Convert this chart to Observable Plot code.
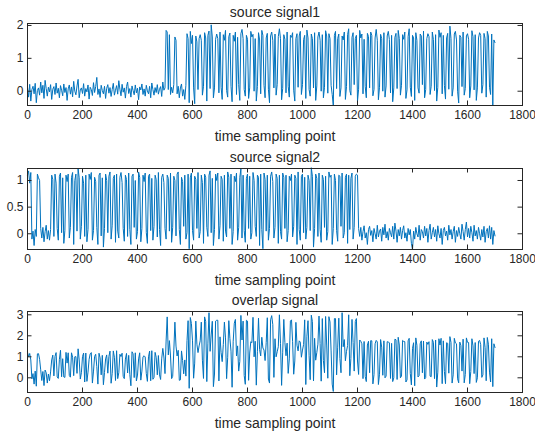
<!DOCTYPE html>
<html><head><meta charset="utf-8">
<script src="https://cdn.jsdelivr.net/npm/d3@7"></script>
<script src="https://cdn.jsdelivr.net/npm/@observablehq/plot@0.6"></script>
<style>
body{margin:0;background:#fff;}
#fig{position:relative;width:535px;height:433px;background:#fff;overflow:hidden;}
#fig svg{position:absolute;left:0;}
</style></head><body><div id="fig"></div>
<script>
const titles = ["source signal1", "source signal2", "overlap signal"];
const xLabel = "time sampling point";
const xTicks = [0, 200, 400, 600, 800, 1000, 1200, 1400, 1600, 1800];
const yTicks1 = [0, 1, 2];
const yTicks2 = [0, 0.5, 1];
const yTicks3 = [0, 1, 2, 3];
const sampleStep = 4; // one value every 4 sampling points, 0..1700

const signal1 = [
0.12,-0.18,0.21,-0.3,0.05,0.15,-0.08,0.24,-0.35,0.02,
0.1,-0.12,0.28,-0.05,0.18,-0.22,0.33,0.08,-0.15,0.12,
-0.02,0.2,-0.25,0.06,0.14,-0.1,0.25,-0.06,0.09,-0.2,
0.17,0.03,-0.14,0.22,-0.04,0.11,-0.28,0.07,0.19,-0.09,
0.13,-0.17,0.3,0.0,-0.11,0.16,0.36,-0.2,0.04,0.1,
-0.07,0.23,-0.15,0.08,-0.02,0.19,-0.24,0.12,0.05,-0.13,
0.26,-0.04,0.14,0.42,-0.1,0.07,-0.19,0.18,0.02,-0.08,
0.15,-0.22,0.09,0.2,-0.06,0.11,-0.16,0.05,0.24,-0.12,
0.03,0.17,-0.09,0.32,0.06,-0.14,0.21,-0.03,0.1,-0.21,
0.14,0.28,-0.07,0.08,-0.18,0.16,0.02,-0.11,0.19,-0.05,
0.09,-0.26,0.13,0.04,0.22,-0.1,0.07,-0.15,0.18,0.01,
-0.08,0.15,-0.2,0.25,0.05,-0.12,0.11,-0.04,0.2,-0.09,
0.06,0.14,-0.16,0.28,0.03,0.1,1.85,1.8,0.05,1.72,
-0.1,0.12,-0.05,0.2,1.65,1.55,-0.08,0.15,-0.2,0.1,
0.22,-0.15,0.05,-0.25,0.18,1.75,1.6,-0.35,1.82,1.45,
1.7,0.1,-0.38,1.68,1.5,0.05,1.6,1.72,1.55,-0.12,
0.15,1.78,1.62,-0.3,1.7,1.83,0.08,2.02,1.65,-0.2,
0.1,1.58,1.74,1.6,-0.05,1.8,0.12,-0.25,1.72,1.55,
1.85,0.02,-0.18,1.66,1.77,0.15,-0.32,1.7,1.52,1.8,
-0.1,1.64,0.2,-0.28,1.75,1.88,1.6,0.05,-0.15,1.7,
1.58,-0.22,0.1,1.82,1.65,1.73,0.0,1.6,-0.3,0.14,
1.78,1.56,-0.08,1.85,1.7,0.18,-0.2,1.62,1.76,0.06,
-0.35,1.68,1.8,1.55,0.1,1.74,-0.12,0.2,1.66,1.9,
1.6,-0.26,0.08,1.72,1.58,-0.05,1.8,0.15,-0.18,1.7,
1.64,1.78,0.03,-0.3,1.6,1.75,0.12,1.68,1.82,-0.1,
0.2,1.57,1.7,-0.22,1.86,1.62,0.05,-0.15,1.74,1.6,
0.1,1.78,-0.28,0.16,1.65,1.8,1.55,0.0,1.72,-0.2,
0.12,1.84,1.68,-0.06,1.75,1.6,0.18,-0.1,-0.44,1.7,
1.82,0.08,1.6,1.74,-0.16,0.1,1.68,1.56,1.8,-0.25,
0.14,1.72,1.9,0.02,-0.12,1.64,1.78,0.2,1.6,1.7,
-0.3,0.06,1.85,1.62,1.74,-0.08,1.58,0.15,-0.2,1.76,
1.66,0.1,1.8,1.7,-0.14,0.05,1.62,1.88,1.55,-0.26,
0.12,1.73,1.6,0.0,1.78,-0.18,0.16,1.68,1.82,1.57,
-0.05,1.7,-0.32,0.1,1.64,1.76,0.08,1.85,1.6,-0.12,
0.18,1.72,1.58,1.8,-0.22,0.04,1.66,1.9,0.12,-0.16,
1.7,1.62,-0.28,1.78,1.55,0.1,-0.06,1.74,1.68,0.2,
1.83,-0.2,0.05,1.6,1.75,1.66,-0.1,0.15,1.8,1.57,
0.02,1.72,-0.3,0.12,1.86,1.64,1.78,-0.08,1.7,0.18,
-0.24,1.62,1.76,0.06,1.98,1.6,-0.15,0.1,1.74,1.82,
1.56,0.0,-0.36,1.7,1.64,0.14,1.8,-0.12,0.08,1.68,
1.75,1.58,-0.2,0.16,1.84,1.66,0.04,1.72,-0.28,0.1,
1.62,1.78,1.7,-0.06,0.2,1.76,1.6,-0.18,1.82,1.68,
0.12,-0.1,1.74,-0.42,1.56,1.48
];

const signal2 = [
1.1,1.18,0.95,1.15,-0.1,0.05,-0.22,0.08,-0.05,1.12,
1.05,1.0,0.1,-0.08,0.12,-0.15,0.04,0.16,-0.1,0.06,
-0.12,0.08,1.1,1.02,-0.05,1.12,0.95,0.1,-0.12,1.08,
1.14,0.02,1.05,-0.18,0.06,1.1,0.98,1.12,-0.08,0.12,
1.06,1.15,-0.2,1.0,1.12,0.05,1.22,1.05,-0.1,0.14,
1.08,0.95,-0.05,1.1,-0.15,0.08,1.12,1.02,1.15,-0.12,
0.06,1.06,0.98,0.12,-0.2,1.1,1.14,-0.04,1.05,-0.25,
0.1,1.12,1.0,0.02,1.08,1.16,-0.1,0.15,1.04,1.1,
-0.16,1.12,0.05,-0.08,1.06,1.15,0.96,0.1,-0.14,1.1,
1.02,-0.05,1.14,0.08,-0.2,1.08,1.12,0.12,1.0,-0.1,
0.04,1.16,1.06,-0.15,0.1,1.1,0.98,1.14,0.02,-0.18,
1.08,1.12,0.06,1.04,-0.12,0.14,1.1,1.02,-0.06,1.15,
0.08,-0.22,1.06,1.12,0.96,0.1,-0.1,1.1,1.04,0.05,
1.14,-0.16,0.12,1.08,1.0,-0.04,1.12,1.16,0.08,-0.2,
1.06,0.98,0.14,1.1,-0.1,0.02,1.12,-0.28,1.05,1.14,
0.06,-0.12,1.08,1.02,0.1,1.15,-0.08,0.04,1.1,0.96,
-0.18,1.12,1.06,0.12,-0.05,1.1,1.18,0.02,1.04,-0.22,
0.08,1.12,1.0,1.14,-0.1,0.15,1.08,1.02,-0.14,1.1,
0.05,-0.06,1.16,1.06,0.1,1.12,-0.2,0.04,1.08,0.98,
1.14,-0.12,0.12,1.06,1.22,-0.08,1.1,0.06,-0.16,1.04,
1.12,0.1,1.08,-0.1,0.02,1.15,1.0,0.14,-0.05,1.1,
1.06,-0.22,1.12,0.08,-0.28,1.14,1.02,0.05,1.1,-0.12,
0.1,1.08,1.16,0.98,-0.08,0.12,1.12,1.04,-0.18,1.1,
0.04,-0.1,1.14,1.06,0.1,1.1,-0.15,0.06,1.08,1.0,
1.12,-0.06,0.14,1.1,1.04,-0.2,1.16,0.08,-0.12,1.08,
1.12,0.02,1.06,-0.1,0.12,1.1,1.0,0.06,1.24,1.08,
-0.25,0.1,1.12,1.04,-0.05,1.14,0.08,-0.16,1.1,1.02,
0.12,1.08,-0.12,0.04,1.16,1.06,1.1,-0.2,0.1,1.12,
1.0,0.06,-0.14,1.1,1.08,0.14,1.14,-0.08,0.02,1.06,
1.12,-0.18,1.1,0.08,1.04,1.14,-0.1,0.12,1.08,1.12,
1.1,0.1,-0.05,0.12,-0.12,0.04,0.15,-0.08,0.02,-0.2,
0.08,0.14,-0.03,0.06,-0.15,0.1,0.0,-0.1,0.16,-0.06,
0.05,0.09,-0.14,0.12,-0.02,0.18,-0.08,0.04,-0.12,0.1,
0.02,-0.06,0.14,-0.1,0.2,0.05,-0.16,0.08,-0.04,0.12,
-0.1,0.06,0.15,-0.08,0.02,-0.14,0.1,-0.02,0.08,-0.18,
-0.3,0.05,-0.1,0.12,0.0,-0.06,0.16,-0.12,0.08,0.04,
-0.08,0.14,-0.04,0.1,-0.16,0.06,0.18,-0.1,0.02,0.12,
-0.06,0.08,-0.14,0.15,0.0,-0.08,0.1,-0.2,0.06,0.12,
-0.04,0.05,-0.12,0.16,-0.02,0.08,-0.1,0.04,0.14,-0.16,
0.06,-0.05,0.12,0.0,-0.1,0.18,0.04,-0.12,0.08,0.22,
-0.06,0.1,-0.08,0.14,0.02,-0.14,0.16,-0.04,0.06,-0.1,
0.12,0.0,-0.12,0.08,-0.06,0.14,-0.16,0.04,0.1,-0.08,
0.15,-0.1,0.12,-0.2,0.06,-0.04
];

const overlap = [
1.22,1.0,1.16,0.85,-0.05,0.2,-0.3,0.32,-0.4,1.14,
1.15,0.88,0.38,-0.13,0.3,-0.37,0.37,0.24,-0.25,0.18,
-0.14,0.28,0.85,1.08,0.09,1.02,1.2,0.04,-0.03,0.88,
1.31,0.05,0.91,0.04,0.02,1.21,0.7,1.19,0.11,0.03,
1.19,0.98,0.1,1.0,1.01,0.21,1.38,0.85,-0.06,0.24,
1.01,1.18,-0.2,1.18,-0.17,0.27,0.88,1.14,1.2,-0.25,
0.32,1.02,1.12,0.54,-0.3,1.17,0.95,0.14,1.07,-0.33,
0.25,0.9,1.09,0.22,1.02,1.27,-0.26,0.2,1.28,0.98,
-0.13,1.29,-0.04,0.24,1.12,1.01,1.17,0.07,-0.04,0.89,
1.16,0.23,1.07,0.16,-0.38,1.24,1.14,0.01,1.19,-0.15,
0.13,0.9,1.19,-0.11,0.32,1.0,1.05,0.99,0.2,-0.17,
1.0,1.27,-0.14,1.29,-0.07,0.02,1.21,0.98,0.14,1.06,
0.14,-0.08,0.9,1.4,0.99,0.2,1.75,2.9,1.09,1.77,
1.04,-0.04,0.07,1.28,2.65,1.51,1.04,1.31,-0.12,-0.1,
1.28,0.83,0.19,0.85,0.08,1.77,2.72,-0.5,2.87,2.59,
1.76,-0.02,0.7,2.7,1.6,1.2,1.52,1.76,2.65,0.84,
-0.03,2.9,2.68,-0.18,1.65,3.1,1.26,2.04,2.69,-0.42,
0.18,2.7,2.74,2.74,-0.15,1.95,1.2,0.77,1.58,2.65,
1.9,-0.04,0.98,2.72,1.87,1.27,-0.45,1.74,2.6,2.78,
1.04,1.52,0.32,0.78,2.97,1.8,2.7,0.11,-0.31,2.74,
2.7,-0.12,1.18,1.72,1.67,2.88,1.0,1.74,-0.35,1.24,
2.84,1.34,1.04,1.93,1.42,1.32,0.82,1.67,2.86,-0.06,
-0.25,2.76,2.96,2.53,0.02,1.86,1.0,1.24,1.48,3.0,
1.64,-0.36,1.22,2.78,1.68,1.05,1.65,0.21,0.9,2.7,
2.76,1.72,0.17,0.8,2.64,1.55,1.28,1.76,1.7,0.98,
1.32,1.59,2.76,-0.32,1.98,2.72,1.05,-0.09,2.98,2.68,
-0.15,1.88,0.84,1.2,1.6,2.94,1.63,-0.16,2.82,0.82,
0.24,2.92,1.56,-0.02,2.91,2.66,1.28,-0.3,-0.65,2.82,
2.82,0.14,1.46,2.84,0.92,0.24,3.1,1.48,1.82,0.81,
1.26,1.54,3.0,0.1,0.92,2.78,1.68,0.32,2.68,2.82,
0.8,0.16,1.8,1.74,1.62,-0.04,1.73,0.07,-0.18,1.56,
1.74,0.24,1.77,1.76,-0.29,0.15,1.62,1.78,1.71,-0.32,
0.17,1.82,1.46,0.12,1.76,0.0,0.08,1.72,1.7,1.67,
-0.03,1.64,-0.18,0.0,1.84,1.81,-0.08,1.93,1.56,0.0,
0.08,1.78,1.73,1.72,-0.2,-0.1,1.76,1.88,0.2,-0.34,
1.4,1.67,-0.38,1.9,1.55,0.04,0.1,1.62,1.76,0.24,
1.75,-0.06,0.01,1.7,1.59,1.72,0.08,0.05,1.82,1.69,
-0.04,1.8,-0.44,0.27,1.86,1.56,1.88,-0.28,1.76,0.3,
-0.28,1.67,1.64,0.22,1.96,1.68,-0.25,0.14,1.88,1.66,
1.62,-0.05,-0.24,1.7,1.54,0.32,1.84,-0.24,0.16,1.9,
1.69,1.68,-0.28,0.3,1.86,1.52,0.2,1.68,-0.22,0.0,
1.74,1.78,1.58,0.02,0.14,1.9,1.44,-0.14,1.92,1.6,
0.27,-0.2,1.86,-0.42,1.62,1.44
];

const FONT = '"Liberation Sans", Arial, Helvetica, sans-serif';
const INK = "#262626";
const LINE = "#0072BD";
const W = 535, ML = 27, MR = 13;
const TICK = 4.5;

function panel(values, title, yDomain, yTicks, top, height, marginTop, marginBottom) {
  const data = values.map((v, i) => ({x: i * sampleStep, y: v}));
  const frameH = height - marginTop - marginBottom;
  const frameW = W - ML - MR;
  const svg = Plot.plot({
    width: W, height, marginLeft: ML, marginRight: MR, marginTop, marginBottom,
    style: {fontFamily: FONT, fontSize: "12px", color: INK, background: "transparent", overflow: "visible"},
    x: {domain: [0, 1800], ticks: xTicks, tickSize: 0, tickPadding: 5, tickFormat: d => String(d), label: null},
    y: {domain: yDomain, ticks: yTicks, tickSize: 0, tickPadding: 4, tickFormat: d => String(d), label: null},
    marks: [
      Plot.line(data, {x: "x", y: "y", stroke: LINE, strokeWidth: 1}),
      Plot.tickX(xTicks, {x: d => d, stroke: INK, insetTop: frameH - TICK}),
      Plot.tickX(xTicks, {x: d => d, stroke: INK, insetBottom: frameH - TICK}),
      Plot.tickY(yTicks, {y: d => d, stroke: INK, insetRight: frameW - TICK}),
      Plot.tickY(yTicks, {y: d => d, stroke: INK, insetLeft: frameW - TICK}),
      Plot.frame({stroke: INK, strokeWidth: 1}),
      Plot.text([title], {text: d => d, frameAnchor: "top", dy: -10.5, lineAnchor: "middle", fontSize: 14, fill: INK}),
      Plot.text([xLabel], {text: d => d, frameAnchor: "bottom", dy: 31, lineAnchor: "middle", fontSize: 14, fill: INK})
    ]
  });
  svg.style.top = top + "px";
  return svg;
}

const fig = document.getElementById("fig");
fig.appendChild(panel(signal1, titles[0], [-0.435, 2.06], yTicks1, 0, 145, 23, 40));
fig.appendChild(panel(signal2, titles[1], [-0.295, 1.225], yTicks2, 145, 145, 23, 41));
fig.appendChild(panel(overlap, titles[2], [-0.7, 3.157], yTicks3, 290, 143, 21, 41));
</script></body></html>
